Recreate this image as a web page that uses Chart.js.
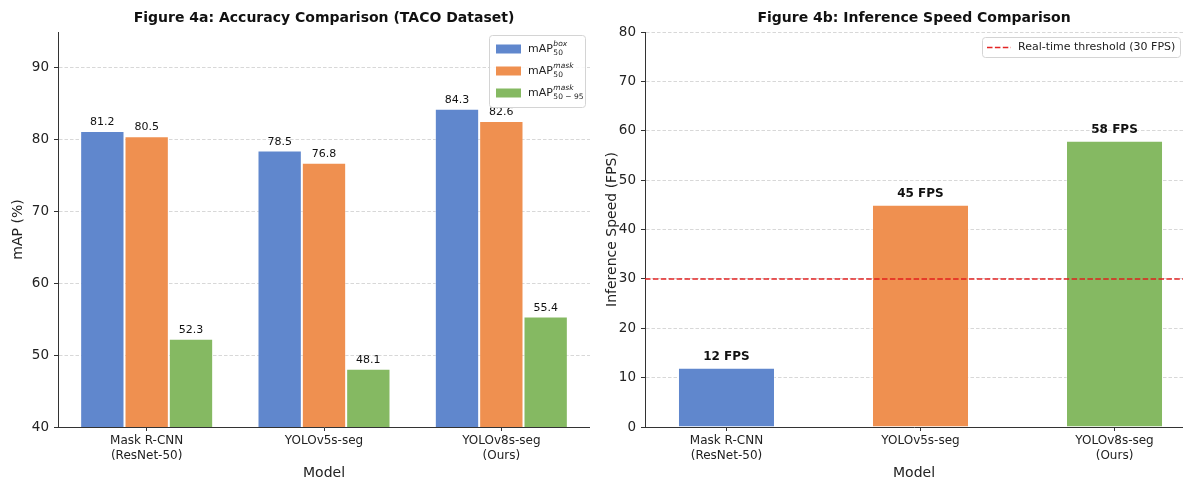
<!DOCTYPE html>
<html>
<head>
<meta charset="utf-8">
<script src="https://cdn.jsdelivr.net/npm/chart.js@4"></script>
<style>
  html, body { margin: 0; padding: 0; background: #fff; }
  #wrap { position: relative; width: 1183px; height: 481px; overflow: hidden; }
  .pane { position: absolute; top: 0; height: 481px; }
  #left { left: 0; width: 590px; }
  #right { left: 590px; width: 593px; }
</style>
</head>
<body>
<div id="wrap">
  <div class="pane" id="left"><canvas id="accChart"></canvas></div>
  <div class="pane" id="right"><canvas id="speedChart"></canvas></div>
</div>
<script>
// data
const models = [["Mask R-CNN", "(ResNet-50)"], "YOLOv5s-seg", ["YOLOv8s-seg", "(Ours)"]];
const mapBox50 = [81.2, 78.5, 84.3];
const mapMask50 = [80.5, 76.8, 82.6];
const mapMask5095 = [52.3, 48.1, 55.4];
const fps = [12, 45, 58];
const fpsThreshold = 30;
const seriesNames = [
  { base: "mAP", sup: "box", sub: "50" },
  { base: "mAP", sup: "mask", sub: "50" },
  { base: "mAP", sup: "mask", sub: "50 \u2212 95" },
];

const font = "'DejaVu Sans', sans-serif";
const blue = "rgb(96,135,205)";
const orange = "rgb(239,144,80)";
const green = "rgb(133,185,98)";
const edge = "rgba(255,255,255,0.4)";
const gridCol = "rgba(190,190,190,0.75)";
const axisCol = "#333";
const txt = "#222";

Chart.defaults.font.family = font;
Chart.defaults.color = txt;
Chart.defaults.animation = false;

// title + value labels + custom legends
const decor = {
  id: "decor",
  afterDatasetsDraw(chart, args, opts) {
    const ctx = chart.ctx;
    const area = chart.chartArea;
    ctx.save();

    // threshold line (axhline)
    if (opts.threshold !== undefined) {
      const y = chart.scales.y.getPixelForValue(opts.threshold);
      ctx.strokeStyle = "rgba(225,25,25,0.95)";
      ctx.lineWidth = 1.5;
      ctx.setLineDash([5.5, 2.4]);
      ctx.beginPath();
      ctx.moveTo(area.left, y);
      ctx.lineTo(area.right, y);
      ctx.stroke();
      ctx.setLineDash([]);
    }

    // value labels
    ctx.fillStyle = "#111";
    ctx.textAlign = "center";
    ctx.textBaseline = "bottom";
    ctx.font = opts.valueFont;
    chart.data.datasets.forEach((ds, di) => {
      const meta = chart.getDatasetMeta(di);
      if (meta.type !== "bar") return;
      meta.data.forEach((bar, i) => {
        const v = ds.data[i];
        const val = typeof v === "object" ? v.y : v;
        ctx.fillText(opts.fmt(val), bar.x, bar.y - opts.valueGap);
      });
    });

    // title
    ctx.font = "bold 14px " + font;
    ctx.textBaseline = "middle";
    ctx.fillStyle = "#111";
    ctx.fillText(opts.title, (area.left + area.right) / 2, 18);

    if (opts.legend) opts.legend(ctx);
    ctx.restore();
  }
};

function legendBox(ctx, x, y, w, h) {
  ctx.fillStyle = "rgba(255,255,255,0.85)";
  ctx.strokeStyle = "#d4d4d4";
  ctx.lineWidth = 1;
  ctx.beginPath();
  ctx.roundRect(x + 0.5, y + 0.5, w, h, 3);
  ctx.fill();
  ctx.stroke();
}

function accLegend(ctx) {
  legendBox(ctx, 489, 35, 96, 72);
  const cols = [blue, orange, green];
  seriesNames.forEach((s, i) => {
    const cy = 49 + i * 22;
    ctx.fillStyle = cols[i];
    ctx.fillRect(496, cy - 4.5, 25, 9);
    ctx.fillStyle = "#222";
    ctx.textAlign = "left";
    ctx.textBaseline = "middle";
    ctx.font = "11px " + font;
    ctx.fillText(s.base, 528, cy);
    const bx = 528 + ctx.measureText(s.base).width + 0.5;
    ctx.font = "italic 7.5px " + font;
    ctx.fillText(s.sup, bx, cy - 4.5);
    ctx.font = "7.5px " + font;
    ctx.fillText(s.sub, bx, cy + 4.5);
  });
}

function speedLegend(ctx) {
  legendBox(ctx, 392, 37, 198, 20);
  ctx.strokeStyle = "rgba(225,25,25,0.95)";
  ctx.lineWidth = 1.5;
  ctx.setLineDash([5.5, 2.4]);
  ctx.beginPath();
  ctx.moveTo(397, 47.5);
  ctx.lineTo(421, 47.5);
  ctx.stroke();
  ctx.setLineDash([]);
  ctx.fillStyle = "#222";
  ctx.textAlign = "left";
  ctx.textBaseline = "middle";
  ctx.font = "11px " + font;
  ctx.fillText("Real-time threshold (" + fpsThreshold + " FPS)", 428, 47.5);
}

const yTicks = { color: txt, font: { size: 13.5 }, padding: 5 };
const xTicks = { color: txt, font: { size: 12, lineHeight: 1.2 }, padding: 3, maxRotation: 0, autoSkip: false };

new Chart(document.getElementById("accChart"), {
  type: "bar",
  data: {
    labels: models,
    datasets: [
      { label: "mAP box 50", data: mapBox50, backgroundColor: blue },
      { label: "mAP mask 50", data: mapMask50, backgroundColor: orange },
      { label: "mAP mask 50-95", data: mapMask5095, backgroundColor: green },
    ],
  },
  options: {
    responsive: true,
    maintainAspectRatio: false,
    layout: { padding: { top: 32, right: 0, left: 0, bottom: 0 } },
    datasets: { bar: { categoryPercentage: 0.75, barPercentage: 1, borderColor: edge, borderWidth: 1, borderSkipped: "bottom" } },
    plugins: {
      legend: { display: false },
      tooltip: { enabled: false },
      decor: {
        title: "Figure 4a: Accuracy Comparison (TACO Dataset)",
        valueFont: "11px " + font,
        valueGap: 3,
        fmt: v => v.toFixed(1),
        legend: accLegend,
      },
    },
    scales: {
      x: {
        offset: true,
        z: 1,
        grid: { offset: false, drawOnChartArea: false, tickLength: 4, tickColor: axisCol, tickWidth: 1 },
        border: { color: axisCol, width: 1 },
        ticks: xTicks,
        title: { display: true, text: "Model", font: { size: 14 }, color: txt, padding: { top: 0, bottom: -1 } },
        afterFit: s => { s.height = 54; },
      },
      y: {
        min: 40,
        max: 95,
        ticks: Object.assign({ stepSize: 10 }, yTicks),
        afterBuildTicks: s => { s.ticks = s.ticks.filter(t => t.value <= 90); },
        grid: { color: gridCol, lineWidth: 0.8, tickLength: 4, tickColor: axisCol, tickWidth: 1 },
        border: { color: axisCol, width: 1, dash: [3.5, 2] },
        title: { display: true, text: "mAP (%)", font: { size: 14 }, color: txt, padding: { top: 10, bottom: 0 } },
        afterFit: s => { s.width = 58; },
      },
    },
  },
  plugins: [decor],
});

new Chart(document.getElementById("speedChart"), {
  type: "bar",
  data: {
    datasets: [
      {
        label: "FPS",
        data: fps.map((v, i) => ({ x: i, y: v })),
        backgroundColor: [blue, orange, green],
        borderColor: edge,
        borderWidth: 1,
        borderSkipped: "bottom",
        categoryPercentage: 1,
        barPercentage: 0.5,
      },
    ],
  },
  options: {
    responsive: true,
    maintainAspectRatio: false,
    layout: { padding: { top: 32, right: 0, left: 0, bottom: 0 } },
    plugins: {
      legend: { display: false },
      tooltip: { enabled: false },
      decor: {
        title: "Figure 4b: Inference Speed Comparison",
        valueFont: "bold 12px " + font,
        valueGap: 5,
        fmt: v => v + " FPS",
        threshold: fpsThreshold,
        legend: speedLegend,
      },
    },
    scales: {
      x: {
        type: "linear",
        offset: false,
        z: 1,
        min: -0.42,
        max: 2.353,
        afterBuildTicks: s => { s.ticks = models.map((m, i) => ({ value: i })); },
        ticks: Object.assign({ callback: v => models[v] }, xTicks),
        grid: { offset: false, drawOnChartArea: false, tickLength: 4, tickColor: axisCol, tickWidth: 1 },
        border: { color: axisCol, width: 1 },
        title: { display: true, text: "Model", font: { size: 14 }, color: txt, padding: { top: 0, bottom: -1 } },
        afterFit: s => { s.height = 54; },
      },
      y: {
        min: 0,
        max: 80,
        ticks: Object.assign({ stepSize: 10 }, yTicks),
        grid: { color: gridCol, lineWidth: 0.8, tickLength: 4, tickColor: axisCol, tickWidth: 1 },
        border: { color: axisCol, width: 1, dash: [3.5, 2] },
        title: { display: true, text: "Inference Speed (FPS)", font: { size: 14 }, color: txt, padding: { top: 14, bottom: 0 } },
        afterFit: s => { s.width = 55; },
      },
    },
  },
  plugins: [decor],
});
</script>
</body>
</html>
